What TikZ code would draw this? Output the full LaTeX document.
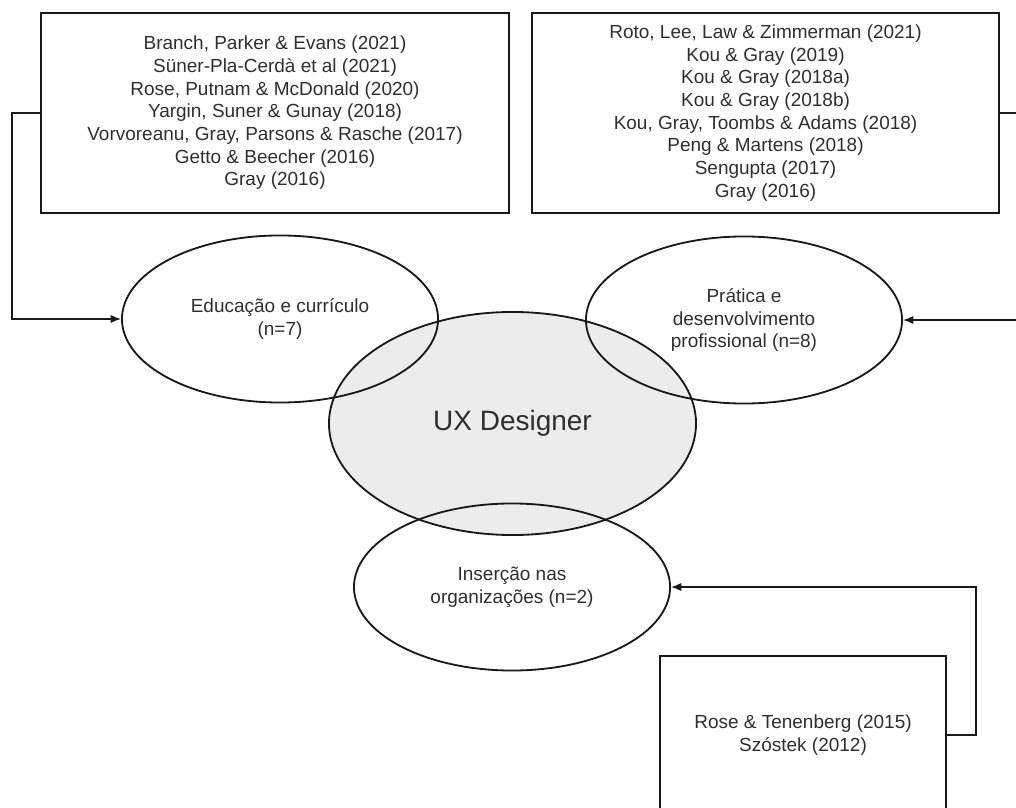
\documentclass[tikz,border=0pt]{standalone}
\usepackage{fontspec}
\setmainfont{Liberation Sans}
\usepackage{tikz}
\usetikzlibrary{arrows.meta}
\usetikzlibrary{shapes.geometric}
\definecolor{uxgray}{HTML}{ECECEC}
\definecolor{inkgray}{HTML}{2E2E2E}
\tikzset{
  refbox/.style={draw=black!90,line width=1.4pt,align=center,text=inkgray,inner sep=0pt,font=\fontsize{13.5}{16.1}\selectfont},
  theme/.style={ellipse,draw=black!90,line width=1.3pt,align=center,text=inkgray,inner sep=0pt,minimum width=7.9cm,minimum height=4.175cm,font=\fontsize{13.5}{16.1}\selectfont},
  link/.style={draw=black!90,line width=1.2pt,-{Latex[length=2.6mm,width=2.1mm]}}
}

\begin{document}
\begin{tikzpicture}[x=0.025cm,y=-0.025cm]
\useasboundingbox (0,0) rectangle (1016,807);
% reference boxes
\node[refbox,minimum width=11.7cm,minimum height=5cm] (lbox) at (275,113) {Branch, Parker \& Evans (2021)\\Süner-Pla-Cerdà et al (2021)\\Rose, Putnam \& McDonald (2020)\\Yargin, Suner \& Gunay (2018)\\Vorvoreanu, Gray, Parsons \& Rasche (2017)\\Getto \& Beecher (2016)\\Gray (2016)};
\node[refbox,minimum width=11.675cm,minimum height=5cm] (rbox) at (765.5,113) {Roto, Lee, Law \& Zimmerman (2021)\\Kou \& Gray (2019)\\Kou \& Gray (2018a)\\Kou \& Gray (2018b)\\Kou, Gray, Toombs \& Adams (2018)\\Peng \& Martens (2018)\\Sengupta (2017)\\Gray (2016)};
\node[refbox,minimum width=7.15cm,minimum height=3.95cm] (bbox) at (803,735) {Rose \& Tenenberg (2015)\\Szóstek (2012)};
% ellipses
\node[ellipse,draw=black!90,fill=uxgray,line width=1.3pt,text=inkgray,inner sep=0pt,minimum width=9.175cm,minimum height=5.575cm,font=\fontsize{19.9}{24}\selectfont] (ux) at (512.5,423.5) {UX Designer};
\node[theme] (edu) at (280,319) {Educação e currículo\\(n=7)};
\node[theme] (prat) at (744,320) {Prática e\\desenvolvimento\\profissional (n=8)};
\node[theme] (ins) at (512,587) {Inserção nas\\organizações (n=2)};
% connectors
\coordinate (lbend) at (12,113);
\coordinate (rbend) at (1024,113);
\coordinate (bbend) at (976,735);
\draw[link] (lbox.west) -- (lbend) |- (edu.west);
\draw[link] (rbox.east) -- (rbend) |- (prat.east);
\draw[link] (bbox.east) -- (bbend) |- (ins.east);
\end{tikzpicture}
\end{document}
